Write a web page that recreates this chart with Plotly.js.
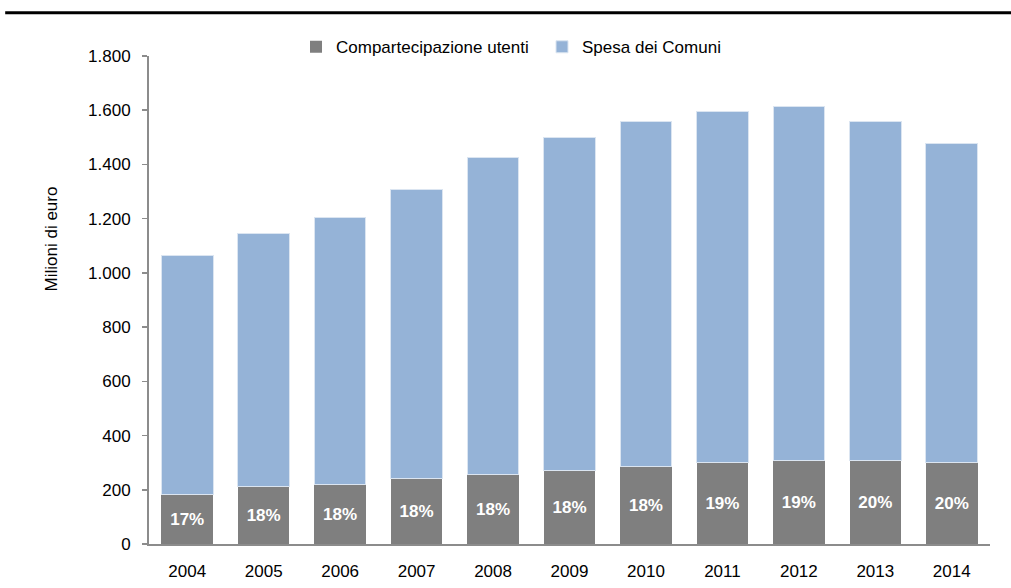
<!DOCTYPE html>
<html>
<head>
<meta charset="utf-8">
<script src="https://cdn.plot.ly/plotly-3.0.1.min.js"></script>
<style>html,body{margin:0;padding:0;background:#fff;}#chart{width:1011px;height:588px;}</style>
</head>
<body>
<div id="chart"></div>
<script>
const years = ['2004','2005','2006','2007','2008','2009','2010','2011','2012','2013','2014'];
const compartecipazione = [182, 211, 220, 241, 256, 270, 285, 300, 307, 307, 300];
const spesaComuni = [884, 935, 986, 1065, 1168, 1230, 1273, 1294, 1305, 1251, 1178];
const pctLabels = ['17%','18%','18%','18%','18%','18%','18%','19%','19%','20%','20%'];
const yTicks = [0, 200, 400, 600, 800, 1000, 1200, 1400, 1600, 1800];
const yTitle = 'Milioni di euro';

const FONT = 'Liberation Sans, Arial, sans-serif';

const traces = [
  {
    type: 'bar', name: 'Compartecipazione utenti', x: years, y: compartecipazione,
    marker: {color: '#7f7f7f', line: {width: 0}},
    text: pctLabels, textposition: 'inside', insidetextanchor: 'middle', textangle: 0,
    constraintext: 'none',
    textfont: {family: FONT, size: 17, color: '#ffffff', weight: 'bold'},
    hoverinfo: 'x+y'
  },
  {
    type: 'bar', name: 'Spesa dei Comuni', x: years, y: spesaComuni,
    marker: {color: '#95b3d7', line: {color: '#dbe5f1', width: 1}},
    hoverinfo: 'x+y'
  }
];

const layout = {
  width: 1011, height: 588,
  margin: {l: 149, r: 21, t: 56, b: 44},
  paper_bgcolor: '#ffffff', plot_bgcolor: '#ffffff',
  barmode: 'stack', bargap: 0.325,
  separators: ',.',
  font: {family: FONT, size: 17, color: '#000000'},
  showlegend: true,
  legend: {
    orientation: 'h', x: 0.1748, xanchor: 'left', y: 1.018, yanchor: 'middle',
    font: {family: FONT, size: 17, color: '#000000'},
    entrywidth: 201, entrywidthmode: 'pixels', traceorder: 'normal',
    bgcolor: 'rgba(0,0,0,0)'
  },
  xaxis: {
    type: 'category', showline: true, linecolor: '#8c8c8c', linewidth: 2,
    ticks: '', showgrid: false, zeroline: false,
    tickfont: {family: FONT, size: 17, color: '#000000'},
    ticklabelstandoff: 11, fixedrange: true
  },
  yaxis: {
    range: [0, 1800], tickvals: yTicks, tickformat: ',d', separatethousands: true,
    showline: true, linecolor: '#8c8c8c', linewidth: 2,
    ticks: 'outside', ticklen: 5, tickwidth: 1.5, tickcolor: '#8c8c8c',
    showgrid: false, zeroline: false,
    tickfont: {family: FONT, size: 17, color: '#000000'},
    ticklabelstandoff: 8,
    fixedrange: true
  },
  annotations: [
    {text: yTitle, xref: 'paper', yref: 'paper', x: -0.116, y: 0.625,
     xanchor: 'center', yanchor: 'middle', textangle: -90, showarrow: false,
     font: {family: FONT, size: 17, color: '#000000'}}
  ],
  shapes: [
    {type: 'line', xref: 'paper', yref: 'paper', x0: -0.171, x1: 1.03, y0: 1.0887, y1: 1.0887,
     line: {color: '#000000', width: 3}}
  ]
};

Plotly.newPlot('chart', traces, layout, {displayModeBar: false, staticPlot: true});
</script>
</body>
</html>
